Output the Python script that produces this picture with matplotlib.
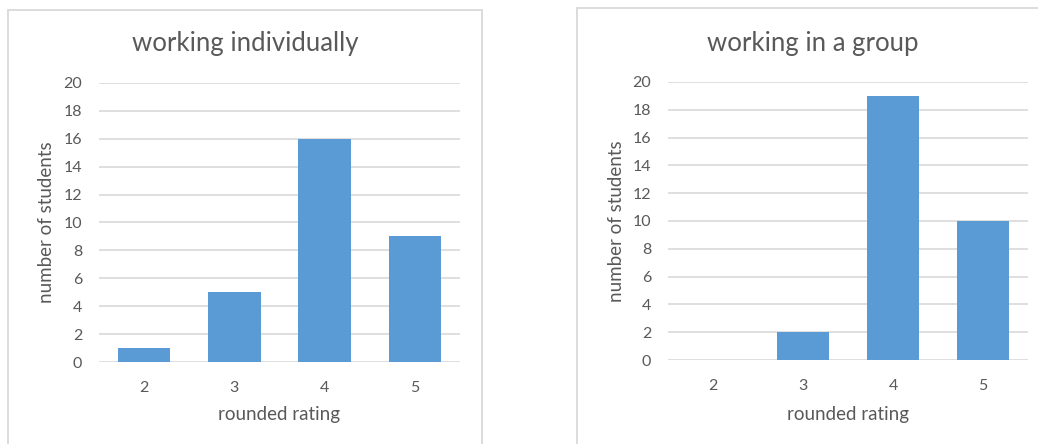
import matplotlib
matplotlib.use("Agg")
import matplotlib.pyplot as plt
from matplotlib.patches import Rectangle

ratings = ["2", "3", "4", "5"]
individual_counts = [1, 5, 16, 9]
group_counts = [0, 2, 19, 10]
titles = ["working individually", "working in a group"]
y_ticks = list(range(0, 21, 2))

BAR = "#5B9BD5"
GRID = "#D9D9D9"
TEXT = "#595959"
FONT = "Lato"

W, H = 1038, 444
fig = plt.figure(figsize=(W / 100, H / 100), dpi=100)
fig.patch.set_facecolor("white")


def px_axes(x0, x1, ytop, ybot):
    return fig.add_axes([x0 / W, (H - ybot) / H, (x1 - x0) / W, (ybot - ytop) / H])


def px_text(x, y, s, **kw):
    fig.text(x / W, (H - y) / H, s, ha="center", va="center",
             color=TEXT, fontfamily=FONT, **kw)


# chart frames
for (bx, by, bw, bh) in [(8, 10, 474, 460), (577, 8, 480, 460)]:
    fig.patches.append(Rectangle((bx / W, (H - by - bh) / H), bw / W, bh / H,
                                 transform=fig.transFigure, fill=False,
                                 edgecolor=GRID, linewidth=1.3))

panels = [
    # counts, title, axes box, title x, y-label x
    (individual_counts, titles[0], (99, 460, 83, 362), 245, 47),
    (group_counts, titles[1], (668, 1028, 82, 360), 813, 617),
]

for counts, title, (x0, x1, yt, yb), tx, ylx in panels:
    ax = px_axes(x0, x1, yt, yb)
    xs = range(len(ratings))
    ax.bar(xs, counts, width=0.58, color=BAR, zorder=3)
    ax.set_xlim(-0.5, len(ratings) - 0.5)
    ax.set_ylim(0, 20)
    ax.set_yticks(y_ticks)
    ax.set_xticks(list(xs))
    ax.set_xticklabels(ratings)
    ax.yaxis.grid(True, color=GRID, linewidth=1.2, zorder=0)
    ax.set_axisbelow(True)
    for s in ax.spines.values():
        s.set_visible(False)
    ax.tick_params(length=0, labelsize=11.5, labelcolor=TEXT)
    ax.tick_params(axis="y", pad=12)
    ax.tick_params(axis="x", pad=14)
    for lab in ax.get_xticklabels() + ax.get_yticklabels():
        lab.set_fontfamily(FONT)

    px_text(tx, 44, title, fontsize=18.5)
    px_text(ylx, (yt + yb) / 2, "number of students", fontsize=13.5,
            rotation=90)
    px_text((x0 + x1) / 2, 414, "rounded rating", fontsize=13.5)

fig.savefig("out.png", dpi=100, facecolor="white")
